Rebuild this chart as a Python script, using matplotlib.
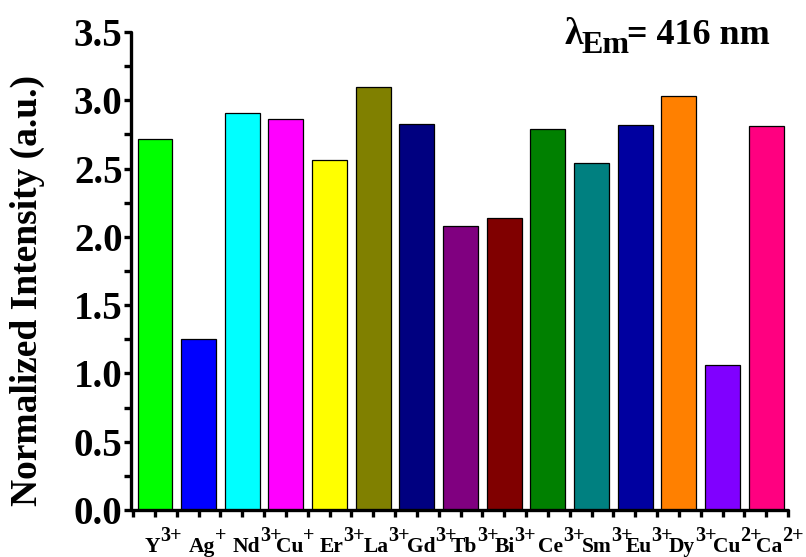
import matplotlib
matplotlib.use("Agg")
import matplotlib.pyplot as plt
from matplotlib.ticker import MultipleLocator, FixedLocator, NullFormatter

# metal ions and their normalized emission intensity at 416 nm
ions = ["Y", "Ag", "Nd", "Cu", "Er", "La", "Gd", "Tb", "Bi", "Ce", "Sm", "Eu", "Dy", "Cu", "Ca"]
charges = ["3+", "+", "3+", "+", "3+", "3+", "3+", "3+", "3+", "3+", "3+", "3+", "3+", "2+", "2+"]
intensity = [2.72, 1.25, 2.91, 2.86, 2.56, 3.10, 2.83, 2.08, 2.14, 2.79, 2.54, 2.82, 3.03, 1.06, 2.81]
bar_colors = ["#00ff00", "#0000ff", "#00ffff", "#ff00ff", "#ffff00", "#808000", "#000080",
              "#800080", "#800000", "#008000", "#008080", "#0000a0", "#ff8000", "#8000ff", "#ff0080"]

plt.rcParams['font.family'] = ['Liberation Serif', 'DejaVu Serif']
plt.rcParams['font.weight'] = 'bold'

fig = plt.figure(figsize=(8.06, 5.57), dpi=100)
ax = fig.add_axes([0.1625, 0.0844, 0.8152, 0.8581])

xpos = list(range(1, len(ions) + 1))
ax.bar(xpos, intensity, width=0.8, color=bar_colors, edgecolor='black', linewidth=0.9, zorder=2)

ax.set_xlim(0.45, 15.5)
ax.set_ylim(0, 3.5)

for side in ['top', 'right']:
    ax.spines[side].set_visible(False)
for side in ['left', 'bottom']:
    ax.spines[side].set_linewidth(2.4)
    ax.spines[side].set_capstyle('round')
    ax.spines[side].set_zorder(3)

ax.yaxis.set_major_locator(MultipleLocator(0.5))
ax.yaxis.set_minor_locator(MultipleLocator(0.25))
ax.xaxis.set_major_locator(FixedLocator(xpos))
ax.xaxis.set_minor_locator(FixedLocator([p + 0.5 for p in range(0, 16)]))
ax.xaxis.set_major_formatter(NullFormatter())
ax.tick_params(which='both', direction='out', length=5, width=2.4, color='black')
ax.tick_params(axis='y', which='major', labelsize=28, pad=1)
ax.set_yticks([0, 0.5, 1.0, 1.5, 2.0, 2.5, 3.0, 3.5])
ax.set_yticklabels(["%.1f" % v for v in ax.get_yticks()], fontweight='bold')

# element names under each bar (left edge a little before the bar centre),
# charges as raised near full-size text right after the name
xtr = ax.get_xaxis_transform()
for p, name, q in zip(xpos, ions, charges):
    t = ax.annotate(name, xy=(p, 0), xycoords=xtr, xytext=(-7.2, -30), textcoords='offset points',
                    ha='left', va='baseline', fontsize=15.5, fontweight='bold', annotation_clip=False)
    ax.annotate(q, xy=(1, 0), xycoords=(t, xtr), xytext=(0, -22.5), textcoords='offset points',
                ha='left', va='baseline', fontsize=14.5, fontweight='bold', annotation_clip=False)

fig.text(0.034, 0.478, "Normalized Intensity (a.u.)", rotation=90, ha='center', va='center',
         fontsize=27, fontweight='bold')

# emission wavelength note
lam = fig.text(0.700, 0.921, "\u03bb", fontsize=27, fontweight='bold', ha='left', va='baseline')
em = ax.annotate("Em", xy=(1, 0), xycoords=lam, xytext=(-1, -1), textcoords='offset points',
                 fontsize=23, fontweight='bold', ha='left', va='baseline', annotation_clip=False)
ax.annotate("= 416 nm", xy=(1, 0), xycoords=(em, lam), xytext=(-1.5, 0), textcoords='offset points',
            fontsize=26, fontweight='bold', ha='left', va='bottom', annotation_clip=False)

fig.savefig("out.png", dpi=100)
